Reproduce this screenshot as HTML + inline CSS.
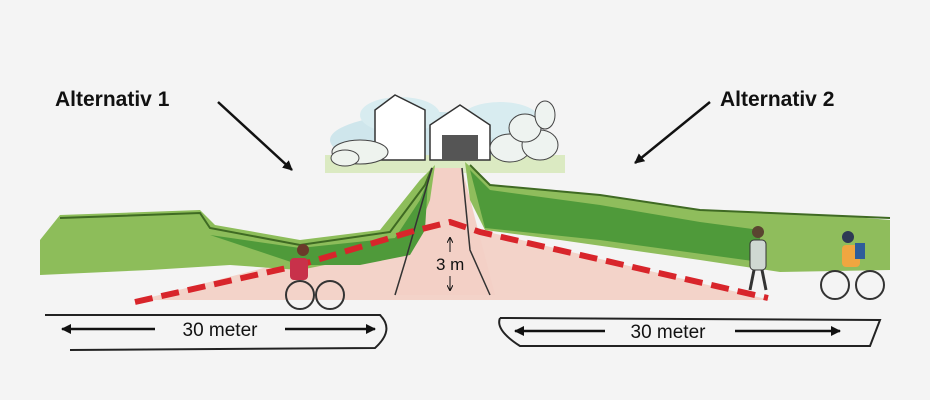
<!DOCTYPE html>
<html><head><meta charset="utf-8"><style>
html,body{margin:0;padding:0;background:#f4f4f4;}
svg{display:block}
text{font-family:"Liberation Sans",sans-serif;}
</style></head><body>
<svg width="930" height="400" viewBox="0 0 930 400" xmlns="http://www.w3.org/2000/svg">
<rect width="930" height="400" fill="#f4f4f4"/>
<defs>
<marker id="ah" markerWidth="10" markerHeight="10" refX="9" refY="5" orient="auto" markerUnits="userSpaceOnUse"><path d="M0,0 L10,5 L0,10 z" fill="#111"/></marker>
<marker id="sa" markerWidth="6" markerHeight="6" refX="5" refY="3" orient="auto" markerUnits="userSpaceOnUse"><path d="M0,0 L6,3 L0,6" fill="none" stroke="#111"/></marker>
</defs>
<ellipse cx="440" cy="140" rx="110" ry="28" fill="#cfe6ec"/>
<ellipse cx="400" cy="115" rx="40" ry="18" fill="#d8ecf0"/>
<ellipse cx="500" cy="120" rx="40" ry="18" fill="#d8ecf0"/>
<rect x="325" y="155" width="240" height="18" fill="#dbeac2"/>
<path d="M375 160 L375 110 L395 95 L425 110 L425 160 Z" fill="#fff" stroke="#333" stroke-width="1.5"/>
<path d="M430 160 L430 125 L460 105 L490 125 L490 160 Z" fill="#fff" stroke="#333" stroke-width="1.5"/>
<rect x="442" y="135" width="36" height="25" fill="#555"/>
<g fill="#eef3f0" stroke="#444" stroke-width="1">
<ellipse cx="510" cy="148" rx="20" ry="14"/>
<ellipse cx="540" cy="145" rx="18" ry="15"/>
<ellipse cx="525" cy="128" rx="16" ry="14"/>
<ellipse cx="545" cy="115" rx="10" ry="14"/>
</g>
<ellipse cx="360" cy="152" rx="28" ry="12" fill="#eef3ee" stroke="#444" stroke-width="1"/>
<ellipse cx="345" cy="158" rx="14" ry="8" fill="#eef3ee" stroke="#444" stroke-width="1"/>
<path d="M140 300 L430 225 L452 220 L472 228 L770 300 Z" fill="#f3d3c9"/>
<path d="M395 295 L432 168 L462 168 L495 295 Z" fill="#f3d0c6"/>
<path d="M40 240 L60 215 L200 210 L215 225 L300 240 L380 230 L420 180 L435 165 L430 200 L410 250 L350 260 L300 270 L230 265 L150 270 L40 275 Z" fill="#8dbd5a"/>
<path d="M60 218 L200 213 L210 228 L300 245 L390 232 L425 185 L432 168" fill="none" stroke="#3f6a23" stroke-width="2"/>
<path d="M210 235 L300 248 L395 238 L420 200 L428 180 L425 230 L410 255 L360 265 L300 265 Z" fill="#4f9a3a"/>
<path d="M465 162 L490 185 L600 195 L700 210 L830 215 L890 220 L890 270 L780 272 L700 260 L560 240 L485 230 L470 200 Z" fill="#8fbd5c"/>
<path d="M470 165 L490 185 L600 195 L700 210 L890 218" fill="none" stroke="#3f6a23" stroke-width="2"/>
<path d="M470 170 L490 190 L600 205 L700 222 L760 230 L760 262 L600 240 L485 228 Z" fill="#4f9a3a"/>
<path d="M432 168 L405 262 L395 295" fill="none" stroke="#333" stroke-width="1.5"/>
<path d="M462 168 L470 250 L490 295" fill="none" stroke="#333" stroke-width="1.5"/>
<path d="M135 302 L300 265 L410 232 L450 222 L480 232 L768 298" fill="none" stroke="#d8252b" stroke-width="6" stroke-dasharray="18,9"/>
<text x="436" y="270" font-size="17" fill="#111">3 m</text>
<line x1="450" y1="252" x2="450" y2="238" stroke="#111" stroke-width="1" marker-end="url(#sa)"/>
<line x1="450" y1="276" x2="450" y2="290" stroke="#111" stroke-width="1" marker-end="url(#sa)"/>
<circle cx="300" cy="295" r="14" fill="none" stroke="#333" stroke-width="2"/>
<circle cx="330" cy="295" r="14" fill="none" stroke="#333" stroke-width="2"/>
<rect x="290" y="258" width="18" height="22" rx="4" fill="#c8314a"/>
<circle cx="303" cy="250" r="6" fill="#6b3a2a"/>
<circle cx="835" cy="285" r="14" fill="none" stroke="#333" stroke-width="2"/>
<circle cx="870" cy="285" r="14" fill="none" stroke="#333" stroke-width="2"/>
<rect x="842" y="245" width="18" height="22" rx="4" fill="#f0a640"/>
<rect x="855" y="243" width="10" height="16" fill="#2e5d9a"/>
<circle cx="848" cy="237" r="6" fill="#2e3a55"/>
<rect x="750" y="240" width="16" height="30" rx="4" fill="#cfd8d2" stroke="#333"/>
<circle cx="758" cy="232" r="6" fill="#5a4530"/>
<line x1="754" y1="270" x2="750" y2="290" stroke="#333" stroke-width="3"/>
<line x1="762" y1="270" x2="766" y2="290" stroke="#333" stroke-width="3"/>
<path d="M45 315 L380 315 Q395 330 375 348 L70 350" fill="none" stroke="#222" stroke-width="2"/>
<path d="M500 318 L880 320 L870 346 L520 346 Q495 330 500 318" fill="none" stroke="#222" stroke-width="2"/>
<line x1="155" y1="329" x2="62" y2="329" stroke="#111" stroke-width="2.5" marker-end="url(#ah)"/>
<line x1="285" y1="329" x2="375" y2="329" stroke="#111" stroke-width="2.5" marker-end="url(#ah)"/>
<text x="220" y="336" font-size="19" text-anchor="middle" fill="#111">30 meter</text>
<line x1="605" y1="331" x2="515" y2="331" stroke="#111" stroke-width="2.5" marker-end="url(#ah)"/>
<line x1="735" y1="331" x2="840" y2="331" stroke="#111" stroke-width="2.5" marker-end="url(#ah)"/>
<text x="668" y="338" font-size="19" text-anchor="middle" fill="#111">30 meter</text>
<text x="55" y="106" font-size="21" font-weight="bold" fill="#111">Alternativ 1</text>
<text x="720" y="106" font-size="21" font-weight="bold" fill="#111">Alternativ 2</text>
<line x1="218" y1="102" x2="292" y2="170" stroke="#111" stroke-width="2.5" marker-end="url(#ah)"/>
<line x1="710" y1="102" x2="635" y2="163" stroke="#111" stroke-width="2.5" marker-end="url(#ah)"/>
</svg>
</body></html>
